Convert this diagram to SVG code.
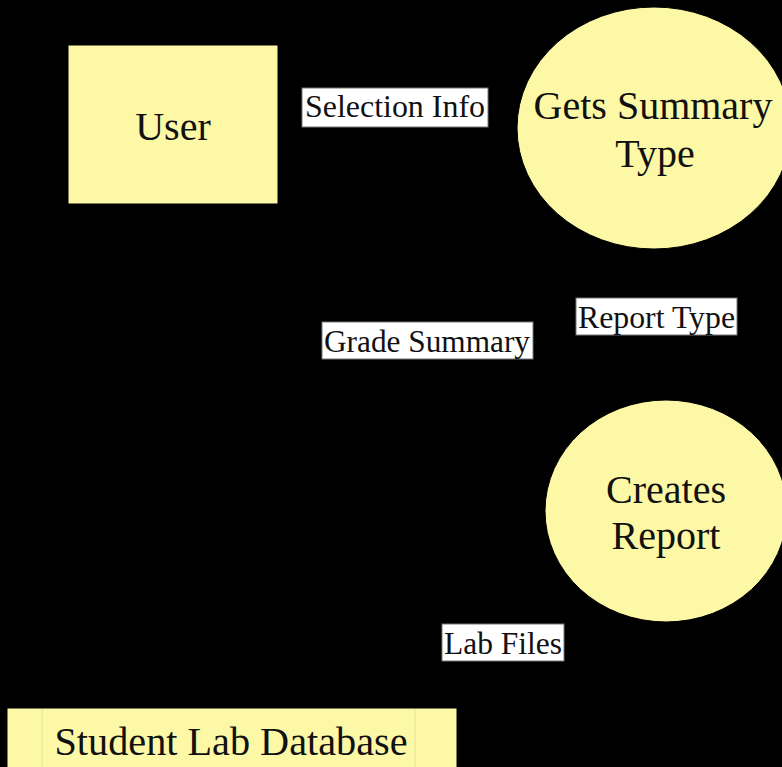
<svg xmlns="http://www.w3.org/2000/svg" width="782" height="767" viewBox="0 0 782 767">
<defs>
<style>
.node{fill:#fcf8a6;stroke:#000;stroke-width:1}
.t{font-family:"Liberation Serif","Times New Roman",serif;font-size:40px;fill:#111;text-anchor:middle}
.lb{fill:#fff;stroke:#777;stroke-width:1}
.lt{font-family:"Liberation Serif","Times New Roman",serif;font-size:31px;fill:#111}
.c{stroke:#000;stroke-width:2;fill:none;marker-end:url(#ah)}
</style>
<marker id="ah" markerWidth="10" markerHeight="10" refX="9" refY="5" orient="auto" markerUnits="userSpaceOnUse"><path d="M0,0 L10,5 L0,10 z" fill="#000"/></marker>
</defs>
<rect width="782" height="767" fill="#000"/>
<g id="connectors">
<line class="c" x1="278" y1="125" x2="517" y2="125"/>
<line class="c" x1="654" y1="249" x2="664" y2="400"/>
<line class="c" x1="548" y1="480" x2="250" y2="204"/>
<line class="c" x1="380" y1="708" x2="580" y2="590"/>
</g>
<g id="user">
<rect class="node" x="68" y="45" width="210" height="159"/>
<text class="t" x="173" y="140">User</text>
</g>
<g id="gets-summary-type">
<ellipse class="node" cx="654" cy="128" rx="137" ry="121"/>
<text class="t" x="653" y="119">Gets Summary</text>
<text class="t" x="655" y="167">Type</text>
</g>
<g id="creates-report">
<ellipse class="node" cx="666" cy="511" rx="121" ry="111"/>
<text class="t" x="666" y="503">Creates</text>
<text class="t" x="666" y="549">Report</text>
</g>
<g id="student-lab-database">
<rect class="node" x="7" y="708" width="450" height="70"/>
<line x1="42" y1="709" x2="42" y2="767" stroke="#e6e29a" stroke-width="1"/>
<line x1="415" y1="709" x2="415" y2="767" stroke="#e6e29a" stroke-width="1"/>
<text class="t" x="231" y="755" textLength="353" lengthAdjust="spacingAndGlyphs">Student Lab Database</text>
</g>
<g id="labels">
<rect class="lb" x="302" y="88" width="186" height="39"/>
<text class="lt" x="305" y="117" textLength="180" lengthAdjust="spacingAndGlyphs">Selection Info</text>
<rect class="lb" x="322" y="322" width="211" height="37"/>
<text class="lt" x="324" y="352" textLength="206" lengthAdjust="spacingAndGlyphs">Grade Summary</text>
<rect class="lb" x="576" y="298" width="161" height="37"/>
<text class="lt" x="578" y="328" textLength="157" lengthAdjust="spacingAndGlyphs">Report Type</text>
<rect class="lb" x="442" y="624" width="122" height="37"/>
<text class="lt" x="444" y="654" textLength="118" lengthAdjust="spacingAndGlyphs">Lab Files</text>
</g>
</svg>
